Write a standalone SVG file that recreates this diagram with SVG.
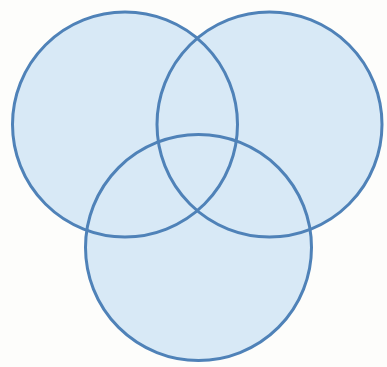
<svg xmlns="http://www.w3.org/2000/svg" width="387" height="367" viewBox="0 0 387 367">
<style>
.fill{fill:#d8e9f6;stroke:none}
.ring{fill:none;stroke:#4f82b8;stroke-width:3}
</style>
<rect width="387" height="367" fill="#fdfdfb"/>
<g id="fills">
<circle class="fill" cx="125" cy="124.5" r="112.5"/>
<circle class="fill" cx="269.5" cy="124.5" r="112.5"/>
<circle class="fill" cx="198.5" cy="247.5" r="113"/>
</g>
<g id="circle-left"><circle class="ring" cx="125" cy="124.5" r="112.5"/></g>
<g id="circle-right"><circle class="ring" cx="269.5" cy="124.5" r="112.5"/></g>
<g id="circle-bottom"><circle class="ring" cx="198.5" cy="247.5" r="113"/></g>
</svg>
